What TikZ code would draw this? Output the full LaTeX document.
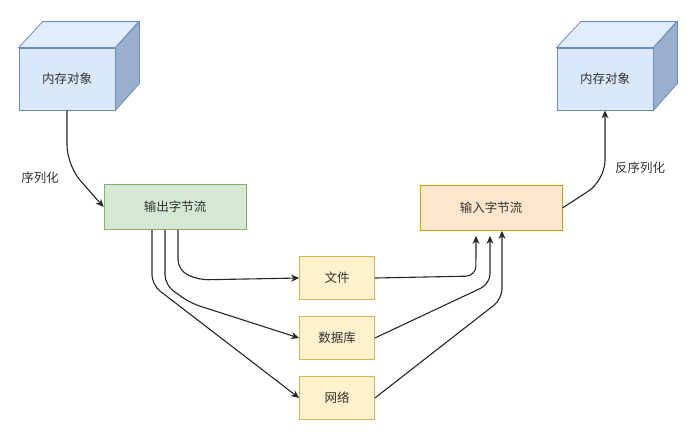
\documentclass[tikz,border=0pt]{standalone}
\usepackage{fontspec}
\setmainfont{Noto Sans CJK SC}
\usetikzlibrary{arrows.meta, positioning, calc}
\definecolor{cbfill}{HTML}{DAE8FC}
\definecolor{cbline}{HTML}{6C8EBF}
\definecolor{cgfill}{HTML}{D5E8D4}
\definecolor{cgline}{HTML}{82B366}
\definecolor{cofill}{HTML}{FFE6CC}
\definecolor{coline}{HTML}{D79B00}
\definecolor{cyfill}{HTML}{FFF2CC}
\definecolor{cyline}{HTML}{D6B656}
\begin{document}
\begin{tikzpicture}[x=1pt, y=-1pt,
  every node/.style={font=\fontsize{12.5}{14}\selectfont, text=black!80},
  cube/.style={rectangle, draw=cbline, fill=cbfill, minimum width=96pt, minimum height=62pt, thick},
  box/.style={rectangle, draw, thick, minimum height=45pt, minimum width=142pt},
  store/.style={rectangle, draw=cyline, fill=cyfill, thick, minimum width=75pt, minimum height=43pt},
  flow/.style={-{Stealth[length=8pt,width=7pt]}, line width=1.1pt, black!85, rounded corners=10pt},
]
\useasboundingbox (0,0) rectangle (695,431);

% Cubes
\foreach \name/\cx in {memL/67, memR/605} {
  \node[cube] (\name) at (\cx,79) {内存对象};
  \draw[cbline, thick, fill=cbfill!80!white] (\name.north west) -- ++(24,-26) -- ++(96,0) -- ($(\name.north east)$) -- cycle;
  \draw[cbline, thick, fill=cbfill!85!black!60!cbline] (\name.north east) -- ++(24,-26) -- ++(0,62) -- (\name.south east) -- cycle;
}

% Streams
\node[box, draw=cgline, fill=cgfill] (out) at (175,207) {输出字节流};
\node[box, draw=coline, fill=cofill] (in) at (491,208) {输入字节流};

% Stores
\node[store] (file) at (337,278) {文件};
\node[store] (db) at (337,338) {数据库};
\node[store] (net) at (337,398) {网络};

% Serialization
\draw[flow, rounded corners=20pt] (memL.south) -- ++(0,55) -- (out.west);
\node at (40,178) {序列化};
\draw[flow, rounded corners=20pt] (in.east) -- ($(memR.south)+(0,70)$) -- (memR.south);
\node at (640,168) {反序列化};

% Output to stores
\draw[flow] ($(out.south)+(3,0)$) -- ++(0,40) -- ++(20,10) -- (file.west);
\draw[flow] ($(out.south)+(-10,0)$) -- ++(0,55) -- ++(25,18) -- (db.west);
\draw[flow] ($(out.south)+(-23,0)$) -- ++(0,55) -- (net.west);

% Stores to input
\draw[flow] (file.east) -- ++(101,-2) -- ($(in.south)+(-15,5)$);
\draw[flow] (db.east) -- ($(in.south)+(-1,53)$) -- ($(in.south)+(-1,5)$);
\draw[flow] (net.east) -- ($(in.south)+(11,68)$) -- ($(in.south)+(11,0)$);
\end{tikzpicture}
\end{document}
